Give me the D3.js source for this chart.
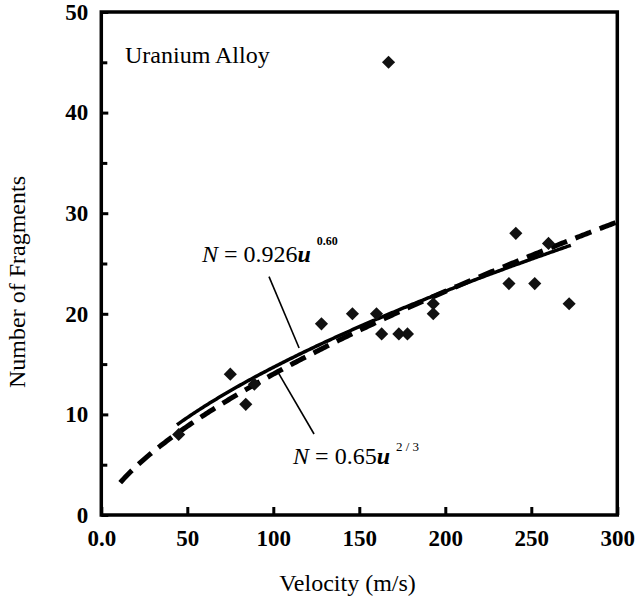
<!DOCTYPE html>
<html>
<head>
<meta charset="utf-8">
<script src="https://cdn.jsdelivr.net/npm/d3@7"></script>
<style>
  html, body { margin: 0; padding: 0; background: #fff; }
  svg { display: block; }
</style>
</head>
<body>
<svg id="chart" width="635" height="604"></svg>
<script>
// Measured fragment counts against impact velocity
const velocity  = [45, 75, 84, 89, 128, 146, 160, 163, 173, 178, 193, 193, 167, 237, 241, 252, 260, 272];
const fragments = [ 8, 14, 11, 13,  19,  20,  20,  18,  18,  18,  21,  20,  45,  23,  28,  23,  27,  21];

// Axis ticks
const xTicks      = [0, 50, 100, 150, 200, 250, 300];
const xTickLabels = ["0.0", "50", "100", "150", "200", "250", "300"];
const yTicks      = [0, 10, 20, 30, 40, 50];
const yMinorTicks = [5, 15, 25, 35, 45];

// Power-law fits N = c * u^p, drawn over the stated velocity span
const fitSolid  = { coef: 0.926, power: 0.60,  from: 44, to: 273 };
const fitDashed = { coef: 0.65,  power: 2 / 3, from: 11, to: 300 };

const SERIF = "'Liberation Serif', 'Times New Roman', Times, serif";

const svg = d3.select("#chart");
const x = d3.scaleLinear().domain([0, 300]).range([101.3, 617.3]);
const y = d3.scaleLinear().domain([0, 50]).range([515, 12]);

// x axis: inward ticks, labels below
const xAxis = d3.axisBottom(x)
  .tickValues(xTicks)
  .tickFormat((d, i) => xTickLabels[i])
  .tickSize(-8).tickSizeOuter(0).tickPadding(15);
const gx = svg.append("g").attr("transform", `translate(0,${y(0)})`).call(xAxis);
gx.select(".domain").remove();
gx.selectAll(".tick line").attr("stroke", "#000").attr("stroke-width", 3);
gx.selectAll(".tick text")
  .style("font-family", SERIF).style("font-size", "23px").style("font-weight", "bold")
  .attr("fill", "#000");

// y axis: major ticks labelled, minor ticks unlabelled
const yAxis = d3.axisLeft(y)
  .tickValues(yTicks)
  .tickFormat(d3.format("d"))
  .tickSize(-7).tickSizeOuter(0).tickPadding(13);
const gy = svg.append("g").attr("transform", `translate(${x(0)},0)`).call(yAxis);
gy.select(".domain").remove();
gy.selectAll(".tick line").attr("stroke", "#000").attr("stroke-width", 3);
gy.selectAll(".tick text")
  .style("font-family", SERIF).style("font-size", "23px").style("font-weight", "bold")
  .attr("fill", "#000");

const yMinorAxis = d3.axisLeft(y).tickValues(yMinorTicks).tickFormat("").tickSize(-6).tickSizeOuter(0);
const gym = svg.append("g").attr("transform", `translate(${x(0)},0)`).call(yMinorAxis);
gym.select(".domain").remove();
gym.selectAll(".tick line").attr("stroke", "#000").attr("stroke-width", 3);

// plot frame
svg.append("rect")
  .attr("x", x(0)).attr("y", y(50))
  .attr("width", x(300) - x(0)).attr("height", y(0) - y(50))
  .attr("fill", "none").attr("stroke", "#000").attr("stroke-width", 3.5);

// fitted curves
const line = d3.line().x(d => x(d[0])).y(d => y(d[1]));
function fitPoints(f) {
  return d3.range(f.from, f.to, 1).concat([f.to]).map(u => [u, f.coef * Math.pow(u, f.power)]);
}
svg.append("path").datum(fitPoints(fitSolid))
  .attr("d", line).attr("fill", "none").attr("stroke", "#000").attr("stroke-width", 3.5);
svg.append("path").datum(fitPoints(fitDashed))
  .attr("d", line).attr("fill", "none").attr("stroke", "#000").attr("stroke-width", 5)
  .attr("stroke-dasharray", "17,9");

// data markers
const diamond = d3.symbol().type(d3.symbolDiamond2).size(110);
svg.append("g").selectAll("path")
  .data(velocity.map((v, i) => [v, fragments[i]]))
  .join("path")
  .attr("transform", d => `translate(${x(d[0])},${y(d[1])})`)
  .attr("d", diamond)
  .attr("fill", "#111");

// leader lines from the equations to their curves
const leaders = [
  [[97.5, 23.7], [115, 16.6]],
  [[102.7, 14.2], [123.7, 8.05]]
];
svg.append("g").selectAll("line").data(leaders).join("line")
  .attr("x1", d => x(d[0][0])).attr("y1", d => y(d[0][1]))
  .attr("x2", d => x(d[1][0])).attr("y2", d => y(d[1][1]))
  .attr("stroke", "#000").attr("stroke-width", 1.6);

function label(px, py, size) {
  return svg.append("text").attr("x", px).attr("y", py).attr("fill", "#000")
    .style("font-family", SERIF).style("font-size", size + "px");
}

// equation labels
function equation(ux, uy, coefText, supText, supDy, supSize, supBold) {
  const t = label(x(ux), y(uy), 24);
  t.append("tspan").style("font-style", "italic").text("N");
  t.append("tspan").text(" = " + coefText);
  t.append("tspan").style("font-style", "italic").style("font-weight", "bold").text("u");
  t.append("tspan").attr("dx", 6).attr("dy", supDy).style("font-size", supSize + "px")
    .style("font-weight", supBold ? "bold" : "normal").text(supText);
}
equation(58.5, 25.15, "0.926", "0.60", -17, 12, true);
equation(111.5, 5.07, "0.65", "2 / 3", -13, 13, false);

// panel title
label(x(13.8), y(44.9), 24).text("Uranium Alloy");

// axis titles
label(347.5, 591, 24).attr("text-anchor", "middle").text("Velocity (m/s)");
label(0, 0, 24).attr("transform", "translate(25,282) rotate(-90)")
  .attr("text-anchor", "middle").text("Number of Fragments");
</script>
</body>
</html>
